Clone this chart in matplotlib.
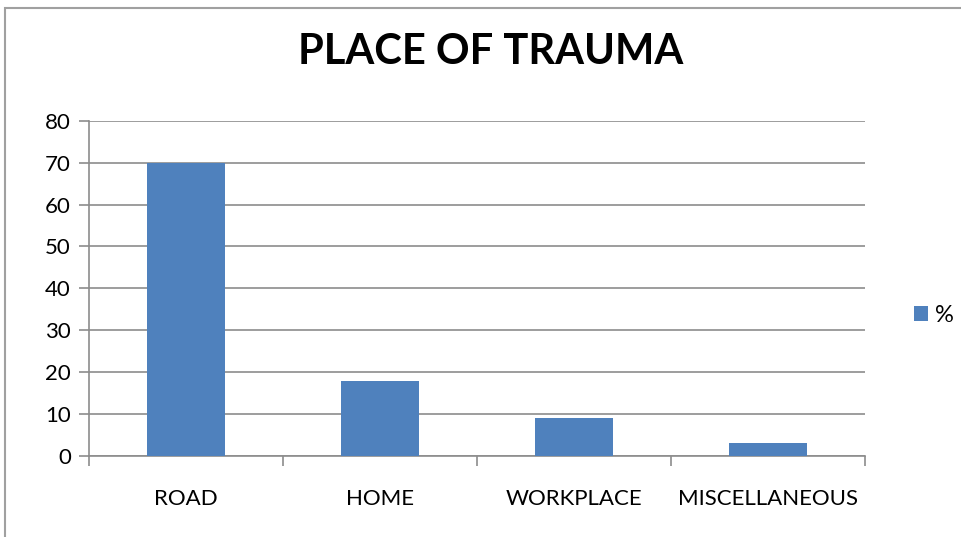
import matplotlib.pyplot as plt
from matplotlib.patches import Rectangle

# data
categories = ['ROAD', 'HOME', 'WORKPLACE', 'MISCELLANEOUS']
percent = [70, 18, 9, 3]
yticks = [0, 10, 20, 30, 40, 50, 60, 70, 80]

plt.rcParams['font.family'] = ['Lato', 'DejaVu Sans']

fig = plt.figure(figsize=(9.62, 5.37), dpi=100)
ax = fig.add_axes([0.0925, 0.151, 0.807, 0.624])

# outer chart border
fig.patches.append(Rectangle((5 / 962, -0.1), 1.2, 1.1 - 8 / 537,
                             transform=fig.transFigure, fill=False,
                             edgecolor='#a0a0a0', linewidth=1.5))

x = range(len(categories))
ax.bar(x, percent, width=0.4, color='#4F81BD', label='%', zorder=3)

ax.set_xlim(-0.5, len(categories) - 0.5)
ax.set_ylim(0, 80)
ax.set_yticks(yticks)
ax.set_yticklabels([str(v) for v in yticks], fontsize=16)
ax.yaxis.grid(True, color='#8c8c8c', linewidth=1.2, zorder=0)

# category labels between boundary ticks
ax.set_xticks([i - 0.5 for i in range(len(categories) + 1)])
ax.set_xticklabels([])
ax.set_xticks(list(x), minor=True)
ax.set_xticklabels(categories, minor=True, fontsize=16)
ax.tick_params(axis='x', which='minor', length=0, pad=24)
ax.tick_params(axis='x', which='major', length=7, width=1.2, color='#8c8c8c')
ax.tick_params(axis='y', length=7, width=1.2, color='#8c8c8c', pad=6)

for s in ['top', 'right']:
    ax.spines[s].set_visible(False)
for s in ['left', 'bottom']:
    ax.spines[s].set_color('#8c8c8c')
    ax.spines[s].set_linewidth(1.2)

fig.text(0.51, 0.903, 'PLACE OF TRAUMA', ha='center', va='center',
         fontsize=30, fontweight='bold')

ax.legend(loc='center left', bbox_to_anchor=(1.035, 0.42), frameon=False,
          fontsize=17, handlelength=0.6, handleheight=0.6, handletextpad=0.3)

fig.savefig('out.png', dpi=100)
